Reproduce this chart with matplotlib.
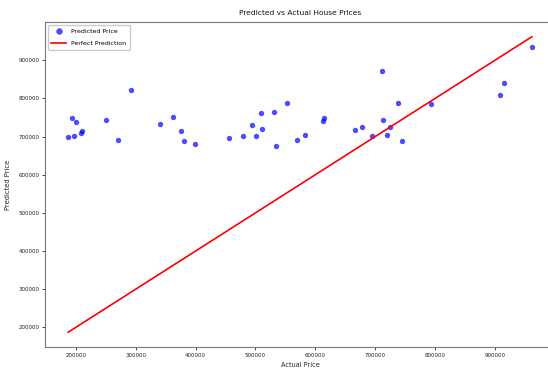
import matplotlib
matplotlib.use("Agg")
import matplotlib.pyplot as plt
import numpy as np

actual_price = [187200, 192800, 197200, 200000, 208800, 210500, 250000, 270000, 291700, 340000,
                362800, 376200, 380000, 399500, 455500, 480000, 493800, 500500, 510000, 511700,
                531700, 534500, 553300, 568800, 582200, 612200, 615000, 666200, 678800, 695000,
                711700, 712800, 720000, 724500, 737800, 745000, 793800, 907800, 915500, 961700]
predicted_price = [698100, 747700, 701500, 738100, 708600, 715400, 743300, 690300, 822400, 732900,
                   750400, 715400, 687700, 681400, 697100, 701500, 731000, 701500, 762400, 719800,
                   765000, 675400, 786900, 690300, 704900, 739900, 747700, 718000, 724200, 701500,
                   871300, 744100, 704900, 724200, 786900, 688500, 785100, 808600, 841800, 934000]
ticks = [200000, 300000, 400000, 500000, 600000, 700000, 800000, 900000]

title = "Predicted vs Actual House Prices"
x_label = "Actual Price"
y_label = "Predicted Price"

plt.rcParams['font.family'] = ['DejaVu Sans']
fig = plt.figure(figsize=(5.48, 3.70), dpi=100)
ax = fig.add_axes([45/548, (370-347)/370, 510/548, 325/370])

ax.scatter(actual_price, predicted_price, color='blue', alpha=0.7, s=15, linewidths=0,
           label='Predicted Price')
lo, hi = min(actual_price), max(actual_price)
ax.plot([lo, hi], [lo, hi], color='red', linewidth=1.2, label='Perfect Prediction')

ax.set_xticks(ticks)
ax.set_yticks(ticks)
ax.set_title(title, fontsize=5.4, pad=5, color='#111111')
ax.set_xlabel(x_label, fontsize=4.7, labelpad=3, color='#222222')
ax.set_ylabel(y_label, fontsize=4.9, labelpad=5, color='#222222')
ax.tick_params(labelsize=4.0, length=2, width=0.6, colors='#222222', pad=2)
ax.ticklabel_format(style='plain')
for sp in ax.spines.values():
    sp.set_color('#777777')
    sp.set_linewidth(0.8)
ax.spines['right'].set_visible(False)
ax.legend(loc='upper left', fontsize=4.5, markerscale=1.2, handlelength=2.4,
          borderpad=0.6, labelspacing=1.1, framealpha=1, borderaxespad=0.4)

fig.savefig("out.png", dpi=100)
